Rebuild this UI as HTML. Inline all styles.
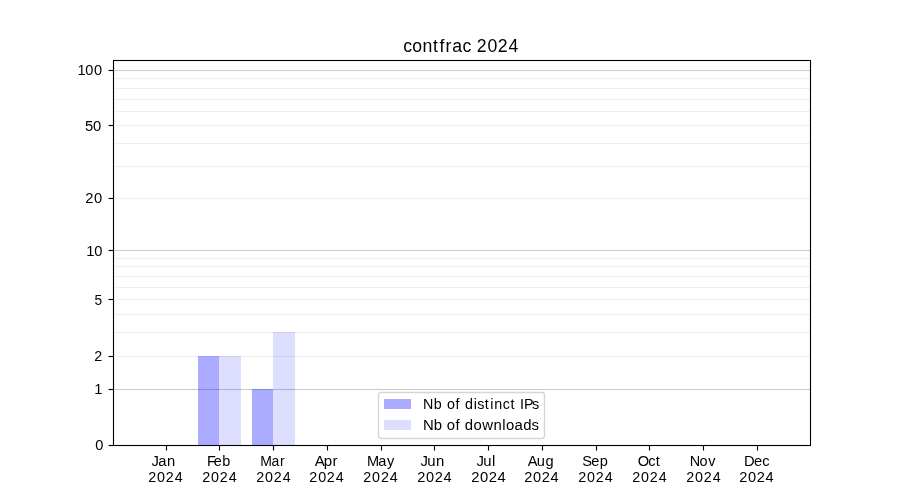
<!DOCTYPE html>
<html><head><meta charset="utf-8"><title>contfrac 2024</title>
<style>
html,body{margin:0;padding:0;background:#fff;width:900px;height:500px;overflow:hidden;}
svg{display:block;will-change:transform;}
text{font-family:"Liberation Sans",sans-serif;fill:#000;}
</style></head><body>
<svg width="900" height="500" viewBox="0 0 900 500">
<rect x="0" y="0" width="900" height="500" fill="#fff"/>
<g shape-rendering="crispEdges">
<rect x="113" y="78" width="697" height="1" fill="#efefef"/>
<rect x="113" y="88" width="697" height="1" fill="#efefef"/>
<rect x="113" y="99" width="697" height="1" fill="#efefef"/>
<rect x="113" y="111" width="697" height="1" fill="#efefef"/>
<rect x="113" y="125" width="697" height="1" fill="#efefef"/>
<rect x="113" y="143" width="697" height="1" fill="#efefef"/>
<rect x="113" y="166" width="697" height="1" fill="#efefef"/>
<rect x="113" y="198" width="697" height="1" fill="#efefef"/>
<rect x="113" y="258" width="697" height="1" fill="#efefef"/>
<rect x="113" y="266" width="697" height="1" fill="#efefef"/>
<rect x="113" y="276" width="697" height="1" fill="#efefef"/>
<rect x="113" y="287" width="697" height="1" fill="#efefef"/>
<rect x="113" y="299" width="697" height="1" fill="#efefef"/>
<rect x="113" y="314" width="697" height="1" fill="#efefef"/>
<rect x="113" y="332" width="697" height="1" fill="#efefef"/>
<rect x="113" y="356" width="697" height="1" fill="#efefef"/>
<rect x="113" y="70" width="697" height="1" fill="#ccc"/>
<rect x="113" y="250" width="697" height="1" fill="#ccc"/>
<rect x="113" y="389" width="697" height="1" fill="#ccc"/>
</g>
<g fill="#000" shape-rendering="crispEdges">
<rect x="113" y="77" width="697" height="1" fill-opacity="0.004"/><rect x="113" y="79" width="697" height="1" fill-opacity="0.004"/>
<rect x="113" y="87" width="697" height="1" fill-opacity="0.004"/><rect x="113" y="89" width="697" height="1" fill-opacity="0.004"/>
<rect x="113" y="98" width="697" height="1" fill-opacity="0.004"/><rect x="113" y="100" width="697" height="1" fill-opacity="0.004"/>
<rect x="113" y="110" width="697" height="1" fill-opacity="0.004"/><rect x="113" y="112" width="697" height="1" fill-opacity="0.004"/>
<rect x="113" y="124" width="697" height="1" fill-opacity="0.004"/><rect x="113" y="126" width="697" height="1" fill-opacity="0.004"/>
<rect x="113" y="142" width="697" height="1" fill-opacity="0.004"/><rect x="113" y="144" width="697" height="1" fill-opacity="0.004"/>
<rect x="113" y="165" width="697" height="1" fill-opacity="0.004"/><rect x="113" y="167" width="697" height="1" fill-opacity="0.004"/>
<rect x="113" y="197" width="697" height="1" fill-opacity="0.004"/><rect x="113" y="199" width="697" height="1" fill-opacity="0.004"/>
<rect x="113" y="257" width="697" height="1" fill-opacity="0.004"/><rect x="113" y="259" width="697" height="1" fill-opacity="0.004"/>
<rect x="113" y="265" width="697" height="1" fill-opacity="0.004"/><rect x="113" y="267" width="697" height="1" fill-opacity="0.004"/>
<rect x="113" y="275" width="697" height="1" fill-opacity="0.004"/><rect x="113" y="277" width="697" height="1" fill-opacity="0.004"/>
<rect x="113" y="286" width="697" height="1" fill-opacity="0.004"/><rect x="113" y="288" width="697" height="1" fill-opacity="0.004"/>
<rect x="113" y="298" width="697" height="1" fill-opacity="0.004"/><rect x="113" y="300" width="697" height="1" fill-opacity="0.004"/>
<rect x="113" y="313" width="697" height="1" fill-opacity="0.004"/><rect x="113" y="315" width="697" height="1" fill-opacity="0.004"/>
<rect x="113" y="331" width="697" height="1" fill-opacity="0.004"/><rect x="113" y="333" width="697" height="1" fill-opacity="0.004"/>
<rect x="113" y="355" width="697" height="1" fill-opacity="0.004"/><rect x="113" y="357" width="697" height="1" fill-opacity="0.004"/>
<rect x="113" y="69" width="697" height="1" fill-opacity="0.012"/><rect x="113" y="71" width="697" height="1" fill-opacity="0.012"/>
<rect x="113" y="249" width="697" height="1" fill-opacity="0.012"/><rect x="113" y="251" width="697" height="1" fill-opacity="0.012"/>
<rect x="113" y="388" width="697" height="1" fill-opacity="0.012"/><rect x="113" y="390" width="697" height="1" fill-opacity="0.012"/>
</g>
<g fill="#0000ff" shape-rendering="crispEdges">
<rect x="198" y="356" width="21" height="89" fill-opacity="0.33"/>
<rect x="219" y="356" width="22" height="89" fill-opacity="0.13"/>
<rect x="252" y="389" width="21" height="56" fill-opacity="0.33"/>
<rect x="273" y="332" width="22" height="113" fill-opacity="0.13"/>
</g>
<g shape-rendering="crispEdges" fill="#000">
<rect x="112" y="59" width="700" height="1" fill-opacity="0.055"/>
<rect x="112" y="61" width="700" height="1" fill-opacity="0.055"/>
<rect x="112" y="444" width="700" height="1" fill-opacity="0.055"/>
<rect x="112" y="446" width="700" height="1" fill-opacity="0.055"/>
<rect x="112" y="62" width="1" height="382" fill-opacity="0.055"/>
<rect x="114" y="62" width="1" height="382" fill-opacity="0.055"/>
<rect x="809" y="62" width="1" height="382" fill-opacity="0.055"/>
<rect x="811" y="62" width="1" height="382" fill-opacity="0.055"/>
<rect x="113" y="60" width="698" height="1"/>
<rect x="113" y="445" width="698" height="1"/>
<rect x="113" y="60" width="1" height="386"/>
<rect x="810" y="60" width="1" height="386"/>
</g>
<g fill="#000" shape-rendering="crispEdges">
<rect x="166" y="446" width="1" height="4"/><rect x="166" y="450" width="1" height="1" fill-opacity="0.5"/><rect x="165" y="446" width="1" height="4" fill-opacity="0.055"/><rect x="167" y="446" width="1" height="4" fill-opacity="0.055"/><rect x="165" y="450" width="1" height="1" fill-opacity="0.027"/><rect x="167" y="450" width="1" height="1" fill-opacity="0.027"/>
<rect x="219" y="446" width="1" height="4"/><rect x="219" y="450" width="1" height="1" fill-opacity="0.5"/><rect x="218" y="446" width="1" height="4" fill-opacity="0.055"/><rect x="220" y="446" width="1" height="4" fill-opacity="0.055"/><rect x="218" y="450" width="1" height="1" fill-opacity="0.027"/><rect x="220" y="450" width="1" height="1" fill-opacity="0.027"/>
<rect x="273" y="446" width="1" height="4"/><rect x="273" y="450" width="1" height="1" fill-opacity="0.5"/><rect x="272" y="446" width="1" height="4" fill-opacity="0.055"/><rect x="274" y="446" width="1" height="4" fill-opacity="0.055"/><rect x="272" y="450" width="1" height="1" fill-opacity="0.027"/><rect x="274" y="450" width="1" height="1" fill-opacity="0.027"/>
<rect x="327" y="446" width="1" height="4"/><rect x="327" y="450" width="1" height="1" fill-opacity="0.5"/><rect x="326" y="446" width="1" height="4" fill-opacity="0.055"/><rect x="328" y="446" width="1" height="4" fill-opacity="0.055"/><rect x="326" y="450" width="1" height="1" fill-opacity="0.027"/><rect x="328" y="450" width="1" height="1" fill-opacity="0.027"/>
<rect x="381" y="446" width="1" height="4"/><rect x="381" y="450" width="1" height="1" fill-opacity="0.5"/><rect x="380" y="446" width="1" height="4" fill-opacity="0.055"/><rect x="382" y="446" width="1" height="4" fill-opacity="0.055"/><rect x="380" y="450" width="1" height="1" fill-opacity="0.027"/><rect x="382" y="450" width="1" height="1" fill-opacity="0.027"/>
<rect x="434" y="446" width="1" height="4"/><rect x="434" y="450" width="1" height="1" fill-opacity="0.5"/><rect x="433" y="446" width="1" height="4" fill-opacity="0.055"/><rect x="435" y="446" width="1" height="4" fill-opacity="0.055"/><rect x="433" y="450" width="1" height="1" fill-opacity="0.027"/><rect x="435" y="450" width="1" height="1" fill-opacity="0.027"/>
<rect x="488" y="446" width="1" height="4"/><rect x="488" y="450" width="1" height="1" fill-opacity="0.5"/><rect x="487" y="446" width="1" height="4" fill-opacity="0.055"/><rect x="489" y="446" width="1" height="4" fill-opacity="0.055"/><rect x="487" y="450" width="1" height="1" fill-opacity="0.027"/><rect x="489" y="450" width="1" height="1" fill-opacity="0.027"/>
<rect x="542" y="446" width="1" height="4"/><rect x="542" y="450" width="1" height="1" fill-opacity="0.5"/><rect x="541" y="446" width="1" height="4" fill-opacity="0.055"/><rect x="543" y="446" width="1" height="4" fill-opacity="0.055"/><rect x="541" y="450" width="1" height="1" fill-opacity="0.027"/><rect x="543" y="450" width="1" height="1" fill-opacity="0.027"/>
<rect x="596" y="446" width="1" height="4"/><rect x="596" y="450" width="1" height="1" fill-opacity="0.5"/><rect x="595" y="446" width="1" height="4" fill-opacity="0.055"/><rect x="597" y="446" width="1" height="4" fill-opacity="0.055"/><rect x="595" y="450" width="1" height="1" fill-opacity="0.027"/><rect x="597" y="450" width="1" height="1" fill-opacity="0.027"/>
<rect x="649" y="446" width="1" height="4"/><rect x="649" y="450" width="1" height="1" fill-opacity="0.5"/><rect x="648" y="446" width="1" height="4" fill-opacity="0.055"/><rect x="650" y="446" width="1" height="4" fill-opacity="0.055"/><rect x="648" y="450" width="1" height="1" fill-opacity="0.027"/><rect x="650" y="450" width="1" height="1" fill-opacity="0.027"/>
<rect x="703" y="446" width="1" height="4"/><rect x="703" y="450" width="1" height="1" fill-opacity="0.5"/><rect x="702" y="446" width="1" height="4" fill-opacity="0.055"/><rect x="704" y="446" width="1" height="4" fill-opacity="0.055"/><rect x="702" y="450" width="1" height="1" fill-opacity="0.027"/><rect x="704" y="450" width="1" height="1" fill-opacity="0.027"/>
<rect x="757" y="446" width="1" height="4"/><rect x="757" y="450" width="1" height="1" fill-opacity="0.5"/><rect x="756" y="446" width="1" height="4" fill-opacity="0.055"/><rect x="758" y="446" width="1" height="4" fill-opacity="0.055"/><rect x="756" y="450" width="1" height="1" fill-opacity="0.027"/><rect x="758" y="450" width="1" height="1" fill-opacity="0.027"/>
<rect x="109" y="70" width="4" height="1"/><rect x="108" y="70" width="1" height="1" fill-opacity="0.5"/><rect x="109" y="69" width="4" height="1" fill-opacity="0.055"/><rect x="109" y="71" width="4" height="1" fill-opacity="0.055"/><rect x="108" y="69" width="1" height="1" fill-opacity="0.027"/><rect x="108" y="71" width="1" height="1" fill-opacity="0.027"/>
<rect x="109" y="125" width="4" height="1"/><rect x="108" y="125" width="1" height="1" fill-opacity="0.5"/><rect x="109" y="124" width="4" height="1" fill-opacity="0.055"/><rect x="109" y="126" width="4" height="1" fill-opacity="0.055"/><rect x="108" y="124" width="1" height="1" fill-opacity="0.027"/><rect x="108" y="126" width="1" height="1" fill-opacity="0.027"/>
<rect x="109" y="198" width="4" height="1"/><rect x="108" y="198" width="1" height="1" fill-opacity="0.5"/><rect x="109" y="197" width="4" height="1" fill-opacity="0.055"/><rect x="109" y="199" width="4" height="1" fill-opacity="0.055"/><rect x="108" y="197" width="1" height="1" fill-opacity="0.027"/><rect x="108" y="199" width="1" height="1" fill-opacity="0.027"/>
<rect x="109" y="250" width="4" height="1"/><rect x="108" y="250" width="1" height="1" fill-opacity="0.5"/><rect x="109" y="249" width="4" height="1" fill-opacity="0.055"/><rect x="109" y="251" width="4" height="1" fill-opacity="0.055"/><rect x="108" y="249" width="1" height="1" fill-opacity="0.027"/><rect x="108" y="251" width="1" height="1" fill-opacity="0.027"/>
<rect x="109" y="299" width="4" height="1"/><rect x="108" y="299" width="1" height="1" fill-opacity="0.5"/><rect x="109" y="298" width="4" height="1" fill-opacity="0.055"/><rect x="109" y="300" width="4" height="1" fill-opacity="0.055"/><rect x="108" y="298" width="1" height="1" fill-opacity="0.027"/><rect x="108" y="300" width="1" height="1" fill-opacity="0.027"/>
<rect x="109" y="356" width="4" height="1"/><rect x="108" y="356" width="1" height="1" fill-opacity="0.5"/><rect x="109" y="355" width="4" height="1" fill-opacity="0.055"/><rect x="109" y="357" width="4" height="1" fill-opacity="0.055"/><rect x="108" y="355" width="1" height="1" fill-opacity="0.027"/><rect x="108" y="357" width="1" height="1" fill-opacity="0.027"/>
<rect x="109" y="389" width="4" height="1"/><rect x="108" y="389" width="1" height="1" fill-opacity="0.5"/><rect x="109" y="388" width="4" height="1" fill-opacity="0.055"/><rect x="109" y="390" width="4" height="1" fill-opacity="0.055"/><rect x="108" y="388" width="1" height="1" fill-opacity="0.027"/><rect x="108" y="390" width="1" height="1" fill-opacity="0.027"/>
<rect x="109" y="445" width="4" height="1"/><rect x="108" y="445" width="1" height="1" fill-opacity="0.5"/><rect x="109" y="444" width="4" height="1" fill-opacity="0.055"/><rect x="109" y="446" width="4" height="1" fill-opacity="0.055"/><rect x="108" y="444" width="1" height="1" fill-opacity="0.027"/><rect x="108" y="446" width="1" height="1" fill-opacity="0.027"/>
</g>
<rect x="378.5" y="392.5" width="166" height="46" rx="2.78" ry="2.78" fill="#fff" fill-opacity="0.8" stroke="#ccc" stroke-opacity="0.8" stroke-width="1.39"/>
<g fill="#0000ff" shape-rendering="crispEdges">
<rect x="384" y="399" width="27" height="10" fill-opacity="0.33"/>
<rect x="384" y="420" width="27" height="10" fill-opacity="0.13"/>
</g>
<text x="403.23 412.34 422.48 433.12 439.57 445.53 452.13 462.47 471.14 476.84 487.39 497.75 508.54" y="51.67" font-size="17.65">contfrac 2024</text>
<text x="151.39 158.36 166.95" y="465.72" font-size="14.75">Jan</text>
<text x="149.82 158.67 167.40 176.50" y="481.92" font-size="14.45" transform="scale(0.9900,1)">2024</text>
<text x="206.93 213.64 222.37" y="465.72" font-size="14.45">Feb</text>
<text x="204.23 213.08 222.07 231.17" y="481.92" font-size="14.45" transform="scale(0.9900,1)">2024</text>
<text x="265.45 277.10 285.73" y="465.72" font-size="14.30" transform="scale(0.9800,1)">Mar</text>
<text x="258.76 267.61 276.60 285.70" y="481.92" font-size="14.45" transform="scale(0.9900,1)">2024</text>
<text x="311.59 320.44 329.21" y="465.72" font-size="14.90" transform="scale(1.0100,1)">Apr</text>
<text x="315.47 324.67 333.49 342.68" y="481.92" font-size="14.60" transform="scale(0.9800,1)">2024</text>
<text x="366.99 378.22 387.01" y="465.72" font-size="14.60">May</text>
<text x="366.82 375.67 384.90 393.75" y="481.92" font-size="14.45" transform="scale(0.9900,1)">2024</text>
<text x="420.48 427.20 436.06" y="465.72" font-size="14.90">Jun</text>
<text x="413.05 421.73 430.54 439.21" y="481.92" font-size="14.45" transform="scale(1.0100,1)">2024</text>
<text x="467.07 473.67 482.33" y="465.72" font-size="14.60" transform="scale(1.0200,1)">Jul</text>
<text x="471.13 479.89 488.78 497.54" y="481.92" font-size="14.75">2024</text>
<text x="527.67 536.85 545.59" y="465.72" font-size="14.60">Aug</text>
<text x="524.16 532.92 541.81 550.57" y="481.92" font-size="14.60">2024</text>
<text x="588.02 597.30 605.74" y="465.72" font-size="14.75" transform="scale(0.9900,1)">Sep</text>
<text x="590.02 598.96 607.79 617.23" y="481.92" font-size="14.60" transform="scale(0.9800,1)">2024</text>
<text x="637.74 648.37 655.66" y="465.72" font-size="14.60">Oct</text>
<text x="638.60 647.45 656.43 665.53" y="481.92" font-size="14.45" transform="scale(0.9900,1)">2024</text>
<text x="696.69 706.68 715.52" y="465.72" font-size="14.60" transform="scale(0.9900,1)">Nov</text>
<text x="693.25 702.10 710.83 719.93" y="481.92" font-size="14.45" transform="scale(0.9900,1)">2024</text>
<text x="736.54 746.53 754.75" y="465.72" font-size="14.60" transform="scale(1.0100,1)">Dec</text>
<text x="746.69 755.54 764.52 773.37" y="481.92" font-size="14.75" transform="scale(0.9900,1)">2024</text>
<text x="95.13" y="450.00" font-size="14.60">0</text>
<text x="93.21" y="394.15" font-size="14.60" transform="scale(1.0100,1)">1</text>
<text x="94.28" y="361.20" font-size="14.30">2</text>
<text x="99.55" y="304.85" font-size="14.45" transform="scale(0.9500,1)">5</text>
<text x="85.29 93.36" y="255.58" font-size="14.60" transform="scale(1.0100,1)">10</text>
<text x="84.32 92.99" y="203.01" font-size="14.60" transform="scale(1.0100,1)">20</text>
<text x="84.91 93.04" y="130.89" font-size="14.75">50</text>
<text x="76.79 84.36 93.10" y="75.34" font-size="14.45" transform="scale(1.0100,1)">100</text>
<text x="431.73 442.57 451.28 456.06 464.84 469.43 474.53 483.52 486.99 494.68 500.25 504.43 513.02 520.93 526.02 530.58 534.59 542.86" y="408.56" font-size="14.60" transform="scale(0.9800,1)">Nb of distinct IPs</text>
<text x="422.88 433.80 442.26 446.77 455.46 460.04 464.63 473.62 482.29 493.38 502.16 506.10 514.56 523.17 531.53" y="429.50" font-size="14.90">Nb of downloads</text>
</svg>
</body></html>
